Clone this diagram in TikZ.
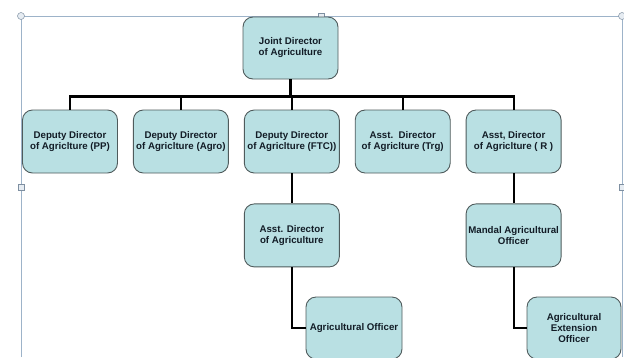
\documentclass[tikz,border=0pt]{standalone}
\usepackage{fontspec}
\setmainfont{Liberation Sans}
\usepackage{xcolor}
\usetikzlibrary{positioning}
\definecolor{boxfill}{HTML}{B9E0E3}
\definecolor{boxline}{HTML}{4F5B5C}
\definecolor{txtcol}{HTML}{121C26}
\definecolor{selcol}{HTML}{9DB3C9}

\begin{document}
\begin{tikzpicture}[
  x=1pt, y=1pt,
  font=\fontsize{9.7}{11}\selectfont\bfseries,
  post/.style={draw=boxline, fill=boxfill, text=txtcol, rounded corners=10pt, align=center,
    minimum width=95pt, minimum height=63pt, inner sep=1pt, line width=0.9pt},
  link/.style={line width=2.1pt, black},
  sel/.style={draw=selcol, line width=0.7pt},
  handle/.style={draw=selcol!80!black, fill=selcol!25, line width=0.5pt}
]
\useasboundingbox (0,0) rectangle (624,-357);
% selection frame
\draw[sel] (21,-357) -- (21,-16) -- (622,-16) -- (622,-357);
\filldraw[handle] (21,-16) circle (3.5);
\filldraw[handle] (622,-16) circle (3.5);
\filldraw[handle] (318.5,-19) rectangle ++(6,6);
\filldraw[handle] (18,-190) rectangle ++(6,6);
\filldraw[handle] (619,-190) rectangle ++(6,6);
% posts
\node[post, minimum height=62pt] (jda) at (290.5,-48) {Joint Director\\of Agriculture};
\node[post] (dpp) at (70,-141.5) {Deputy Director\\of Agriclture (PP)};
\node[post, right=15pt of dpp] (dagro) {Deputy Director\\of Agriclture (Agro)};
\node[post, right=15pt of dagro] (dftc) {Deputy Director\\of Agriclture (FTC))};
\node[post, right=15pt of dftc] (adtrg) {Asst.~~Director\\of Agriclture (Trg)};
\node[post, right=15pt of adtrg] (adr) {Asst, Director\\of Agriclture ( R )};
\node[post, below=30pt of dftc] (ada) {Asst. Director\\of Agriculture};
\node[post, below=30pt of adr] (mao) {Mandal Agricultural\\Officer};
\node[post, minimum width=96pt, minimum height=62pt] (ao) at (354,-328) {Agricultural Officer};
\node[post, minimum width=94pt, minimum height=62pt] (aeo) at (574,-328) {Agricultural\\Extension\\Officer};
% links
\foreach \n in {dpp,dagro,dftc,adtrg,adr}
  \draw[link] (jda.south) -- ++(0,-17) -| (\n.north);
\draw[link] (dftc) -- (ada);
\draw[link] (ada.south) |- (ao.west);
\draw[link] (adr) -- (mao);
\draw[link] (mao.south) |- (aeo.west);
\end{tikzpicture}
\end{document}
